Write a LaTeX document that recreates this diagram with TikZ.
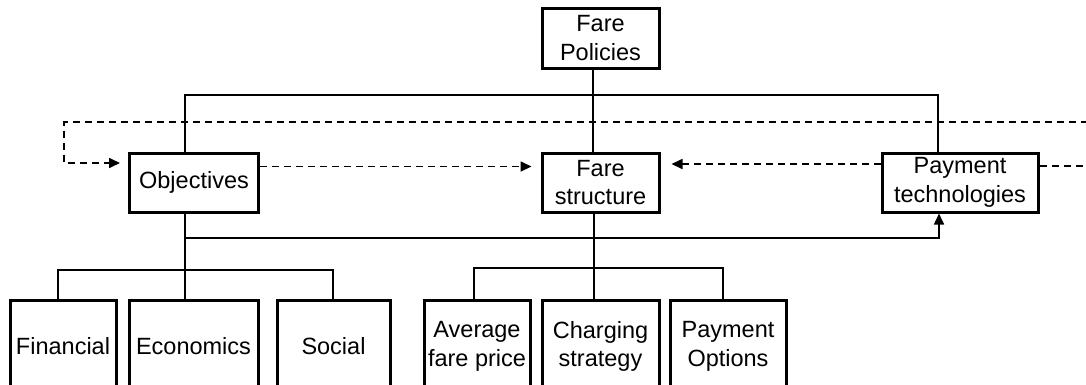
\documentclass[tikz,border=0pt]{standalone}
\usepackage{fontspec}
\setmainfont{Liberation Sans}
\usetikzlibrary{arrows.meta}

\begin{document}
\begin{tikzpicture}[x=1pt,y=-1pt,
	box/.style={draw,line width=3pt,align=center,inner sep=0pt,font=\fontsize{23.5}{28.5}\selectfont},
	leaf/.style={box,anchor=north,minimum height=92pt},
	link/.style={line width=1.6pt},
	feed/.style={line width=1.7pt,dash pattern=on 7pt off 5pt,-{Triangle[length=11pt,width=10pt]}}]
	\useasboundingbox (0,0) rectangle (1086,384);
	\node[box,minimum width=117pt,minimum height=60pt] (policies) at (600.5,38) {Fare\\Policies};
	\node[box,minimum width=129pt,minimum height=59pt] (objectives) at (194,182.5) {Objectives};
	\node[box,minimum width=117pt,minimum height=59pt] (structure) at (600.5,182.5) {Fare\\structure};
	\node[box,minimum width=156pt,minimum height=59pt] (technologies) at (960,182.5) {Payment\\technologies};
	\node[leaf,minimum width=106pt] (financial) at (63,299) {Financial};
	\node[leaf,minimum width=129pt] (economics) at (193.5,299) {Economics};
	\node[leaf,minimum width=113pt] (social) at (333.5,299) {Social};
	\node[leaf,minimum width=106pt] (average) at (477,299) {Average\\fare price};
	\node[leaf,minimum width=117pt] (charging) at (600.5,299) {Charging\\strategy};
	\node[leaf,minimum width=116pt] (options) at (728,299) {Payment\\Options};
	% top level
	\coordinate (topbus) at (593,95);
	\draw[link] ([xshift=-7.5pt]policies.south) -- ([xshift=-7.5pt]structure.north);
	\draw[link] ([xshift=-9pt]objectives.north) |- (topbus) -| ([xshift=-22pt]technologies.north);
	% objectives branch
	\coordinate (objbus) at (185,270);
	\coordinate (objtap) at (185,238);
	\draw[link] ([xshift=-9pt]objectives.south) -- (objbus);
	\draw[link] ([xshift=-5pt]financial.north) |- (objbus) -| ([xshift=-0.5pt]social.north);
	\draw[link] (objbus) -- ([xshift=-8.5pt]economics.north);
	\draw[link,-{Triangle[length=11pt,width=10pt]}] (objtap) -| ([xshift=-21pt]technologies.south);
	% structure branch
	\coordinate (farebus) at (594,268);
	\draw[link] ([xshift=-6.5pt]structure.south) -- (farebus);
	\draw[link] ([xshift=-3pt]average.north) |- (farebus) -| ([xshift=-5pt]options.north);
	\draw[link] (farebus) -- ([xshift=-6.5pt]charging.north);
	% dashed relations
	\draw[feed] ([yshift=16pt]objectives.east) -- ([xshift=-9pt,yshift=16pt]structure.west);
	\draw[feed] ([yshift=18.5pt]technologies.west) -- ([xshift=11pt,yshift=18.5pt]structure.east);
	\draw[feed] ([yshift=16.5pt]technologies.east) -- ++(80,0) |- (64,122) |- ([xshift=-8pt,yshift=19.5pt]objectives.west);
\end{tikzpicture}
\end{document}
